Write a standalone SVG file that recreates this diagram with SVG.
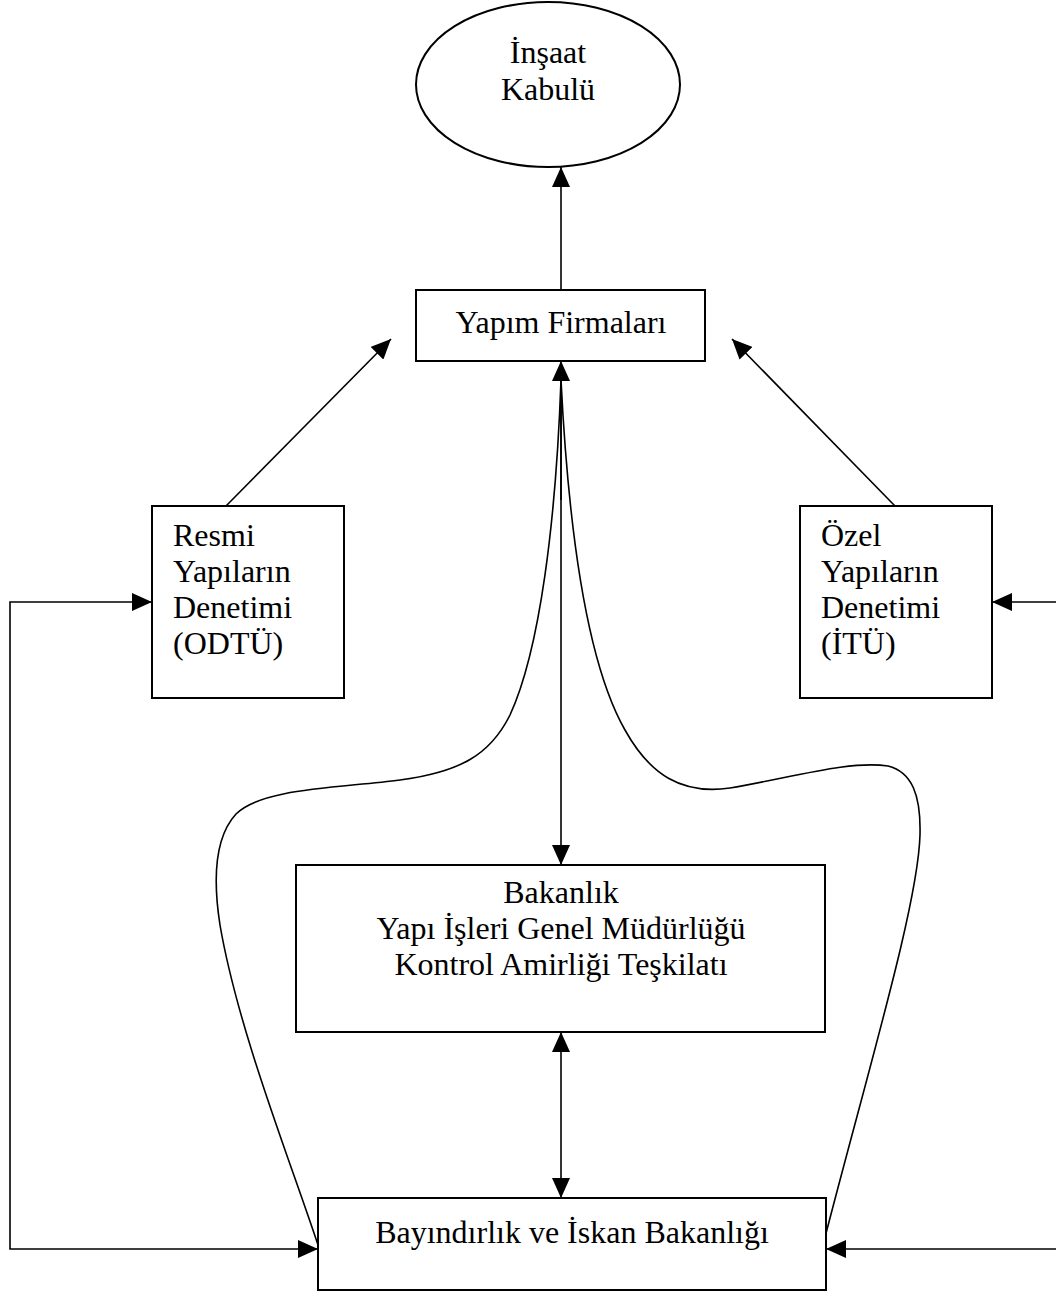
<svg xmlns="http://www.w3.org/2000/svg" width="1056" height="1299" viewBox="0 0 1056 1299">
<style>
.box{fill:#fff;stroke:#000;stroke-width:2}
.t{font-family:"Liberation Serif","Times New Roman",serif;font-size:32px;fill:#000}
.c{text-anchor:middle}
.ln{fill:none;stroke:#000;stroke-width:1.6}
</style>
<defs>
<marker id="ah" viewBox="0 0 20 18" refX="20" refY="9" markerWidth="20" markerHeight="18" markerUnits="userSpaceOnUse" orient="auto-start-reverse">
<path d="M0,0 L20,9 L0,18 z" fill="#000"/>
</marker>
</defs>
<rect width="1056" height="1299" fill="#fff"/>
<g id="connectors">
<line class="ln" x1="561" y1="290" x2="561" y2="167" marker-end="url(#ah)"/>
<line class="ln" x1="561" y1="380" x2="561" y2="865" marker-end="url(#ah)"/>
<line class="ln" x1="561" y1="500" x2="561" y2="361" marker-end="url(#ah)"/>
<line class="ln" x1="561" y1="1032" x2="561" y2="1198" marker-start="url(#ah)" marker-end="url(#ah)"/>
<line class="ln" x1="226" y1="506" x2="391" y2="339" marker-end="url(#ah)"/>
<line class="ln" x1="895" y1="506" x2="732" y2="339" marker-end="url(#ah)"/>
<path class="ln" d="M152,602 L10,602 L10,1249 L318,1249" marker-start="url(#ah)" marker-end="url(#ah)"/>
<line class="ln" x1="1056" y1="602" x2="992" y2="602" marker-end="url(#ah)"/>
<line class="ln" x1="1056" y1="1249" x2="826" y2="1249" marker-end="url(#ah)"/>
<path class="ln" d="M561,380 C556,520 540,650 510,715 C490,755 460,772 400,780 C340,788 262,788 236,814 C214,838 213,880 220,925 C238,1030 290,1160 318,1245"/>
<path class="ln" d="M561,380 C568,520 585,660 625,730 C650,775 682,795 730,788 C790,778 850,760 888,766 C912,772 921,795 920,835 C918,905 868,1070 823,1245"/>
</g>
<g id="node-insaat">
<ellipse class="box" cx="548" cy="84.5" rx="132" ry="82.5"/>
<text class="t c" x="548" y="63">İnşaat</text>
<text class="t c" x="548" y="100">Kabulü</text>
</g>
<g id="node-yapim">
<rect class="box" x="416" y="290" width="289" height="71"/>
<text class="t c" x="561" y="333">Yapım Firmaları</text>
</g>
<g id="node-resmi">
<rect class="box" x="152" y="506" width="192" height="192"/>
<text class="t" x="173" y="546">Resmi</text>
<text class="t" x="173" y="582">Yapıların</text>
<text class="t" x="173" y="618">Denetimi</text>
<text class="t" x="173" y="654">(ODTÜ)</text>
</g>
<g id="node-ozel">
<rect class="box" x="800" y="506" width="192" height="192"/>
<text class="t" x="821" y="546">Özel</text>
<text class="t" x="821" y="582">Yapıların</text>
<text class="t" x="821" y="618">Denetimi</text>
<text class="t" x="821" y="654">(İTÜ)</text>
</g>
<g id="node-bakanlik">
<rect class="box" x="296" y="865" width="529" height="167"/>
<text class="t c" x="561" y="903">Bakanlık</text>
<text class="t c" x="561" y="939">Yapı İşleri Genel Müdürlüğü</text>
<text class="t c" x="561" y="975">Kontrol Amirliği Teşkilatı</text>
</g>
<g id="node-bayindirlik">
<rect class="box" x="318" y="1198" width="508" height="92"/>
<text class="t c" x="572" y="1243">Bayındırlık ve İskan Bakanlığı</text>
</g>
</svg>
